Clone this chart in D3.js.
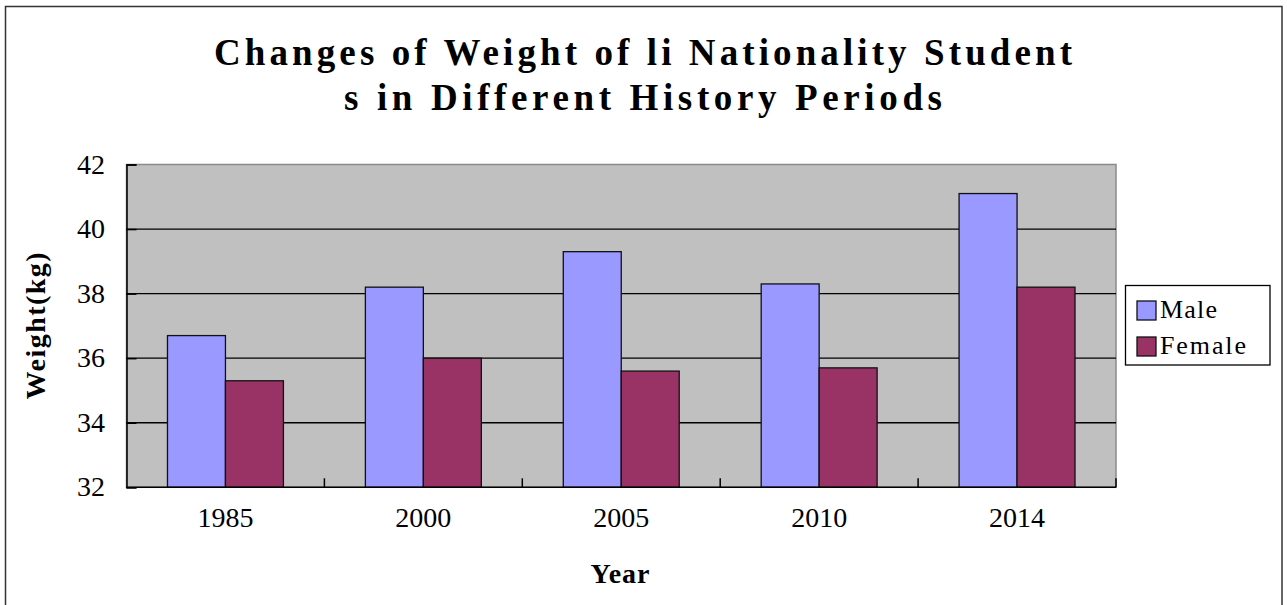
<!DOCTYPE html>
<html>
<head>
<meta charset="utf-8">
<script src="https://cdn.jsdelivr.net/npm/d3@7"></script>
<style>
  html, body { margin: 0; padding: 0; background: #fff; }
  svg { display: block; }
  text { font-family: "Liberation Serif", "DejaVu Serif", serif; fill: #000; }
</style>
</head>
<body>
<svg id="chart" width="1287" height="605"></svg>
<script>
// ---- data ----
const titleLines = ["Changes of Weight of li Nationality Student", "s in Different History Periods"];
const years = ["1985", "2000", "2005", "2010", "2014"];
const seriesNames = ["Male", "Female"];
const maleValues = [36.7, 38.2, 39.3, 38.3, 41.1];
const femaleValues = [35.3, 36.0, 35.6, 35.7, 38.2];
const yTicks = [32, 34, 36, 38, 40, 42];
const xAxisTitle = "Year";
const yAxisTitle = "Weight(kg)";
const colors = ["#9999FF", "#993366"];

const rows = years.map((y, i) => ({ year: y, values: [maleValues[i], femaleValues[i]] }));

// ---- layout ----
const plot = { left: 126.5, right: 1116, top: 164.5, bottom: 487.3 };
const svg = d3.select("#chart");

// text spread to a fixed extent (the original used a monospaced font)
function fitText(parent, str, { x, y, width, size, bold = false, anchor = "start", rotate = 0 }) {
  const g = parent.append("g").attr("transform", `translate(${x},${y})` + (rotate ? ` rotate(${rotate})` : ""));
  const t = g.append("text")
    .attr("text-anchor", anchor)
    .style("font-size", size + "px")
    .style("font-weight", bold ? "bold" : "normal")
    .text(str);
  if (width) t.attr("textLength", width).attr("lengthAdjust", "spacing");
  return g;
}

// outer frame
svg.append("rect")
  .attr("x", 5.5).attr("y", 6.5).attr("width", 1276.5).attr("height", 640)
  .attr("fill", "#fff").attr("stroke", "#333").attr("stroke-width", 1.5);

// title
fitText(svg, titleLines[0], { x: 643, y: 65, width: 858, size: 37, bold: true, anchor: "middle" });
fitText(svg, titleLines[1], { x: 643, y: 110, width: 598, size: 37, bold: true, anchor: "middle" });

// scales
const x0 = d3.scaleBand().domain(years).range([plot.left, plot.right]).paddingInner(0).paddingOuter(0);
const x1 = d3.scaleBand().domain(seriesNames).range([0, x0.bandwidth()]).paddingInner(0).paddingOuter(0.707);
const y = d3.scaleLinear().domain([32, 42]).range([plot.bottom, plot.top]);

// plot background
svg.append("rect")
  .attr("x", plot.left).attr("y", plot.top)
  .attr("width", plot.right - plot.left).attr("height", plot.bottom - plot.top)
  .attr("fill", "#C0C0C0").attr("stroke", "#8a8a8a").attr("stroke-width", 1.5);

// gridlines
svg.append("g").selectAll("line")
  .data(yTicks.filter(v => v > 32 && v < 42)).join("line")
  .attr("x1", plot.left).attr("x2", plot.right)
  .attr("y1", d => y(d)).attr("y2", d => y(d))
  .attr("stroke", "#000").attr("stroke-width", 1.3);

// bars
const groups = svg.append("g").selectAll("g").data(rows).join("g")
  .attr("transform", d => `translate(${x0(d.year)},0)`);
groups.selectAll("rect")
  .data(d => d.values.map((v, i) => ({ name: seriesNames[i], v, i })))
  .join("rect")
  .attr("x", d => x1(d.name))
  .attr("y", d => y(d.v))
  .attr("width", x1.bandwidth())
  .attr("height", d => plot.bottom - y(d.v))
  .attr("fill", d => colors[d.i])
  .attr("stroke", "#111").attr("stroke-width", 1.3);

// y axis (inside ticks)
const yAxis = svg.append("g").attr("transform", `translate(${plot.left},0)`)
  .call(d3.axisLeft(y).tickValues(yTicks).tickSize(-10).tickFormat(""));
yAxis.select(".domain").attr("stroke", "#000").attr("stroke-width", 1.5);
yAxis.selectAll(".tick line").attr("stroke", "#000").attr("stroke-width", 1.5);

// y tick labels
yTicks.forEach(v => {
  fitText(svg, String(v), { x: 105, y: y(v) + 9, size: 28, anchor: "end" });
});

// x axis (inside ticks at category boundaries)
const boundaries = years.map(yr => x0(yr) + x0.bandwidth());
svg.append("line")
  .attr("x1", plot.left).attr("x2", plot.right)
  .attr("y1", plot.bottom).attr("y2", plot.bottom)
  .attr("stroke", "#000").attr("stroke-width", 1.5);
svg.append("g").selectAll("line").data(boundaries).join("line")
  .attr("x1", d => d).attr("x2", d => d)
  .attr("y1", plot.bottom).attr("y2", plot.bottom - 9)
  .attr("stroke", "#000").attr("stroke-width", 1.5);

// x tick labels
years.forEach(yr => {
  fitText(svg, yr, { x: x0(yr) + x0.bandwidth() / 2, y: 527, size: 28, anchor: "middle" });
});

// axis titles
fitText(svg, xAxisTitle, { x: 620, y: 583, width: 59, size: 28, bold: true, anchor: "middle" });
fitText(svg, yAxisTitle, { x: 45, y: (plot.top + plot.bottom) / 2, width: 147, size: 28, bold: true, anchor: "middle", rotate: -90 });

// legend
const lg = svg.append("g");
lg.append("rect").attr("x", 1125.5).attr("y", 285.5).attr("width", 144.5).attr("height", 79.5)
  .attr("fill", "#fff").attr("stroke", "#000").attr("stroke-width", 1.3);
seriesNames.forEach((n, i) => {
  lg.append("rect").attr("x", 1137).attr("y", 301 + i * 36).attr("width", 19).attr("height", 19)
    .attr("fill", colors[i]).attr("stroke", "#111").attr("stroke-width", 1.3);
  fitText(lg, n, { x: 1160, y: 318 + i * 35.5, width: i === 0 ? 57 : 86, size: 26, anchor: "start" });
});
</script>
</body>
</html>
